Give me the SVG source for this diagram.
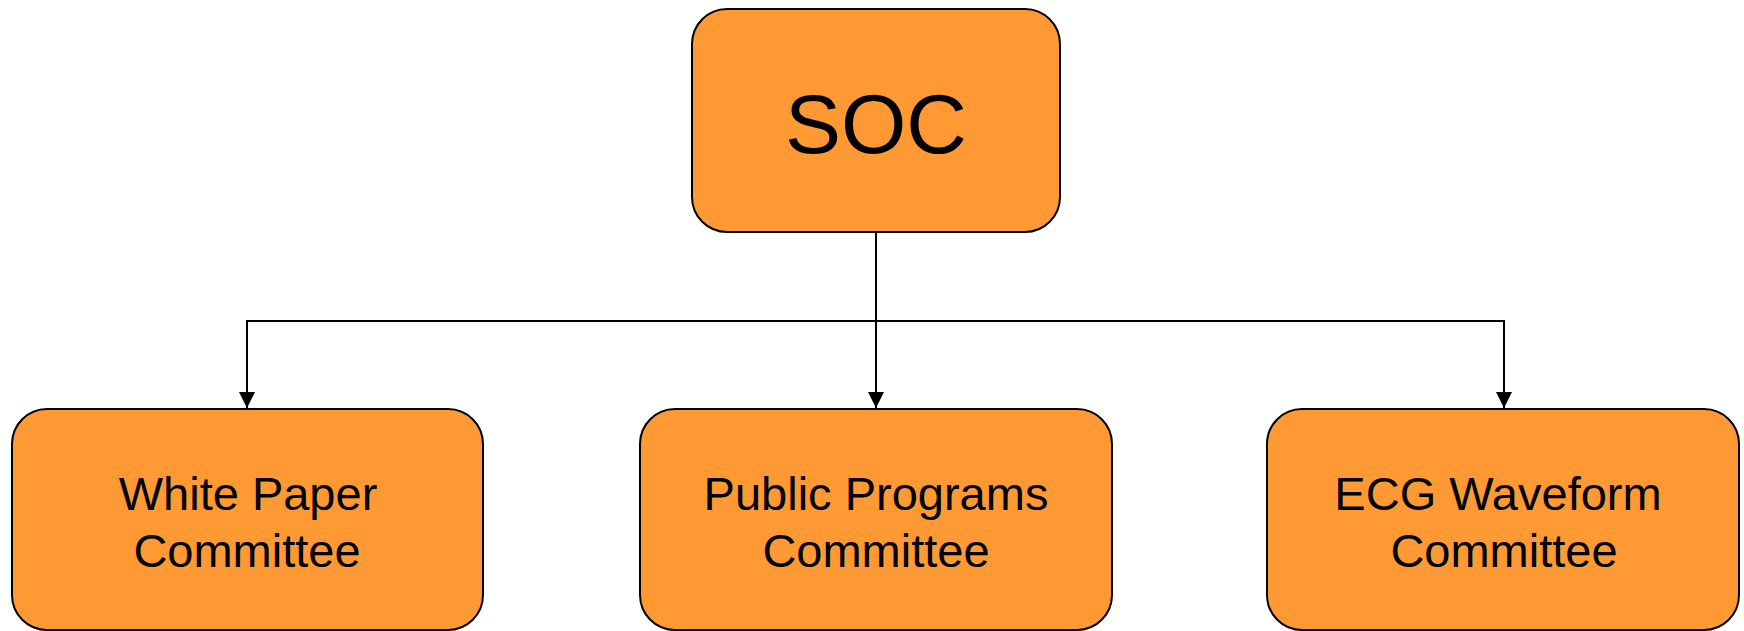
<svg xmlns="http://www.w3.org/2000/svg" width="1744" height="631" viewBox="0 0 1744 631">
  <style>
    .box { fill: #FF9933; stroke: #000000; stroke-width: 2; }
    .lbl { font-family: "Liberation Sans", Arial, sans-serif; fill: #000000; text-anchor: middle; }
    .edge { fill: none; stroke: #000000; stroke-width: 2; }
  </style>
  <defs>
    <marker id="arrow" viewBox="0 0 16 16" refX="16" refY="8" markerWidth="16" markerHeight="16" markerUnits="userSpaceOnUse" orient="auto">
      <path d="M0,0 L16,8 L0,16 Z" fill="#000000"/>
    </marker>
  </defs>
  <rect x="0" y="0" width="1744" height="631" fill="#FFFFFF"/>
  <g id="connectors">
    <path class="edge" d="M876,233 L876,408" marker-end="url(#arrow)"/>
    <path class="edge" d="M876,321 L247,321 L247,408" marker-end="url(#arrow)"/>
    <path class="edge" d="M876,321 L1504,321 L1504,408" marker-end="url(#arrow)"/>
  </g>
  <g id="soc">
    <rect class="box" x="692" y="9" width="368" height="223" rx="35" ry="35"/>
    <text class="lbl" x="876" y="153" font-size="84">SOC</text>
  </g>
  <g id="white-paper">
    <rect class="box" x="12" y="409" width="471" height="221" rx="35" ry="35"/>
    <text class="lbl" x="248" y="510" font-size="47">White Paper</text>
    <text class="lbl" x="247" y="567" font-size="47">Committee</text>
  </g>
  <g id="public-programs">
    <rect class="box" x="640" y="409" width="472" height="221" rx="35" ry="35"/>
    <text class="lbl" x="876" y="510" font-size="47">Public Programs</text>
    <text class="lbl" x="876" y="567" font-size="47">Committee</text>
  </g>
  <g id="ecg-waveform">
    <rect class="box" x="1267" y="409" width="472" height="221" rx="35" ry="35"/>
    <text class="lbl" x="1498" y="510" font-size="47">ECG Waveform</text>
    <text class="lbl" x="1504" y="567" font-size="47">Committee</text>
  </g>
</svg>
